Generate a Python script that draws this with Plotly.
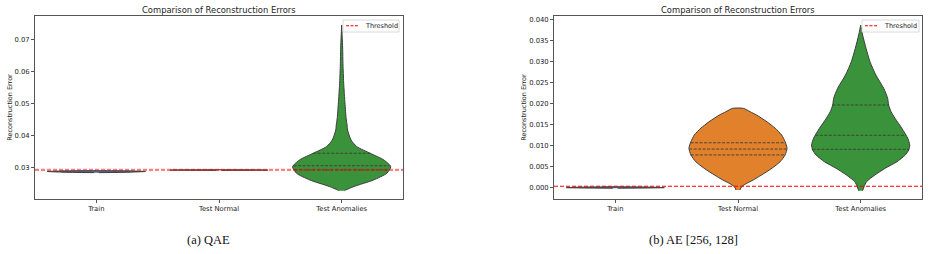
import numpy as np
import plotly.graph_objects as go

W, H = 929, 254

categories = ["Train", "Test Normal", "Test Anomalies"]
colors = ["#3274a1", "#e1812c", "#3a923a"]
edge = "#3d3d3d"

# ---- Panel (a) QAE: density profiles (value, relative half-width) ----
qae_train_y = [0.02853, 0.0287, 0.0289, 0.0291, 0.02916]
qae_train_w = [0.05, 0.7, 1.0, 0.6, 0.05]
qae_normal_y = [0.02925, 0.02933, 0.0294, 0.02945]
qae_normal_w = [0.05, 1.0, 0.8, 0.05]
qae_anom_y = [0.0229, 0.0231, 0.0242, 0.02625, 0.02834, 0.0304, 0.0325, 0.0346, 0.03666,
              0.03875, 0.04188, 0.04344, 0.045, 0.04656, 0.05188, 0.05688, 0.0622, 0.0675, 0.0747]
qae_anom_w = [0.06, 0.08, 0.25, 0.65, 0.92, 1.0, 0.86, 0.58, 0.31,
              0.19, 0.12, 0.11, 0.095, 0.085, 0.06, 0.04, 0.027, 0.02, 0.0]
qae_quartiles = [[], [], [0.0294, 0.0307, 0.0346]]
qae_threshold = 0.0294

# ---- Panel (b) AE [256, 128] ----
ae_train_y = [-0.00012, 0.0, 0.0001, 0.00022]
ae_train_w = [0.05, 1.0, 0.8, 0.05]
ae_normal_y = [-0.00055, 0.00024, 0.00105, 0.00183, 0.00302, 0.00462, 0.00619, 0.00779, 0.00938,
               0.01095, 0.01255, 0.01414, 0.0157, 0.0173, 0.0181, 0.0189]
ae_normal_w = [0.04, 0.075, 0.18, 0.31, 0.48, 0.69, 0.86, 0.96, 1.0,
               0.96, 0.89, 0.76, 0.59, 0.38, 0.245, 0.11]
ae_normal_q = [0.0078, 0.0092, 0.0107]
ae_anom_y = [-0.00071, 0.00024, 0.00143, 0.00302, 0.00462, 0.00619, 0.00779, 0.00898, 0.01017,
             0.01176, 0.01414, 0.01652, 0.0181, 0.01969, 0.02129, 0.02367, 0.02683, 0.03,
             0.03319, 0.03636, 0.03874]
ae_anom_w = [0.04, 0.07, 0.12, 0.29, 0.50, 0.74, 0.91, 0.98, 1.0,
             0.96, 0.84, 0.70, 0.62, 0.57, 0.55, 0.47, 0.31, 0.19,
             0.11, 0.04, 0.0]
ae_anom_q = [0.00914, 0.01248, 0.0197]
ae_quartiles = [[], ae_normal_q, ae_anom_q]
ae_threshold = 0.00033

legend_label = "Threshold"
HALF = 0.4  # max half width in category units

fig = go.Figure()


def add_violin(ys, ws, pos, color, xa, ya, quarts):
    ys = np.asarray(ys, float)
    ws = np.asarray(ws, float) * HALF
    xs = np.concatenate([pos + ws, (pos - ws)[::-1]])
    yy = np.concatenate([ys, ys[::-1]])
    fig.add_trace(go.Scatter(x=xs, y=yy, fill="toself", fillcolor=color, mode="lines",
                             line=dict(color=edge, width=1, shape="spline", smoothing=0.6),
                             xaxis=xa, yaxis=ya, showlegend=False, hoverinfo="skip"))
    for q in quarts:
        hw = float(np.interp(q, ys, ws))
        fig.add_trace(go.Scatter(x=[pos - hw, pos + hw], y=[q, q], mode="lines",
                                 line=dict(color=edge, width=0.9, dash="3px,1.5px"),
                                 xaxis=xa, yaxis=ya, showlegend=False, hoverinfo="skip"))


qae = [(qae_train_y, qae_train_w), (qae_normal_y, qae_normal_w), (qae_anom_y, qae_anom_w)]
ae = [(ae_train_y, ae_train_w), (ae_normal_y, ae_normal_w), (ae_anom_y, ae_anom_w)]
for i, (ys, ws) in enumerate(qae):
    add_violin(ys, ws, i, colors[i], "x", "y", qae_quartiles[i])
for i, (ys, ws) in enumerate(ae):
    add_violin(ys, ws, i, colors[i], "x2", "y2", ae_quartiles[i])

# thresholds
fig.add_shape(type="line", xref="x domain", yref="y", x0=0, x1=1, y0=qae_threshold, y1=qae_threshold,
              line=dict(color="rgba(255,0,0,0.5)", width=2.2, dash="4px,2px"))
fig.add_shape(type="line", xref="x2 domain", yref="y2", x0=0, x1=1, y0=ae_threshold, y1=ae_threshold,
              line=dict(color="red", width=1.1, dash="4px,2px"))

ax_common = dict(showline=True, mirror=True, linecolor="#555", linewidth=1, ticks="outside",
                 ticklen=3, tickcolor="#555", showgrid=False, zeroline=False,
                 tickfont=dict(family="DejaVu Sans", size=6.8, color="#222"))

x1d = [35 / W, 403 / W]
x2d = [554 / W, 922 / W]
yd = [1 - 199 / H, 1 - 16 / H]

annotations = []
shapes_extra = []
# compact legends drawn inside the axes' top-right corner (in paper pixels)
for (bx0, bx1) in [(343, 399), (862, 919)]:
    by0, by1 = 20, 32
    shapes_extra.append(dict(type="rect", xref="paper", yref="paper", x0=bx0 / W, x1=bx1 / W,
                             y0=1 - by1 / H, y1=1 - by0 / H, line=dict(color="#d0d0d0", width=0.8),
                             fillcolor="white", layer="above"))
    shapes_extra.append(dict(type="line", xref="paper", yref="paper", x0=(bx0 + 3) / W, x1=(bx0 + 15) / W,
                             y0=1 - 25.8 / H, y1=1 - 25.8 / H, line=dict(color="red", width=1.1, dash="3px,1.5px"),
                             layer="above"))
    annotations.append(dict(text=legend_label, x=(bx0 + 20) / W, y=1 - 26 / H, xref="paper", yref="paper",
                            showarrow=False, xanchor="left", yanchor="middle",
                            font=dict(size=6.5, color="#222")))
for s in shapes_extra:
    fig.add_shape(**s)

for xd in (x1d, x2d):
    annotations.append(dict(text="Comparison of Reconstruction Errors", x=sum(xd) / 2, y=1 - 10 / H,
                            xref="paper", yref="paper", showarrow=False, xanchor="center", yanchor="middle",
                            font=dict(size=8.4, color="#222")))
annotations.append(dict(text="(a) QAE", x=208 / W, y=1 - 240 / H, xref="paper", yref="paper", showarrow=False,
                        xanchor="center", yanchor="middle", font=dict(family="Liberation Serif", size=12.5, color="#111")))
annotations.append(dict(text="(b) AE [256, 128]", x=693 / W, y=1 - 240 / H, xref="paper", yref="paper",
                        showarrow=False, xanchor="center", yanchor="middle",
                        font=dict(family="Liberation Serif", size=12.5, color="#111")))

fig.update_layout(
    width=W, height=H, margin=dict(l=0, r=0, t=0, b=0),
    plot_bgcolor="white", paper_bgcolor="white", showlegend=False,
    font=dict(family="DejaVu Sans", color="#222"),
    xaxis=dict(domain=x1d, range=[-0.5, 2.5], tickvals=[0, 1, 2], ticktext=categories, anchor="y", **ax_common),
    yaxis=dict(domain=yd, range=[0.0203, 0.0775], tickvals=[0.03, 0.04, 0.05, 0.06, 0.07], tickformat=".2f",
               anchor="x", title=dict(text="Reconstruction Error", font=dict(size=6.5, color="#222"), standoff=0),
               **ax_common),
    xaxis2=dict(domain=x2d, range=[-0.5, 2.5], tickvals=[0, 1, 2], ticktext=categories, anchor="y2", **ax_common),
    yaxis2=dict(domain=yd, range=[-0.0027, 0.0409], dtick=0.005, tick0=0, tickformat=".3f",
                anchor="x2", title=dict(text="Reconstruction Error", font=dict(size=6.5, color="#222"), standoff=1),
                **ax_common),
    annotations=annotations,
)

fig.write_html("out.html")
